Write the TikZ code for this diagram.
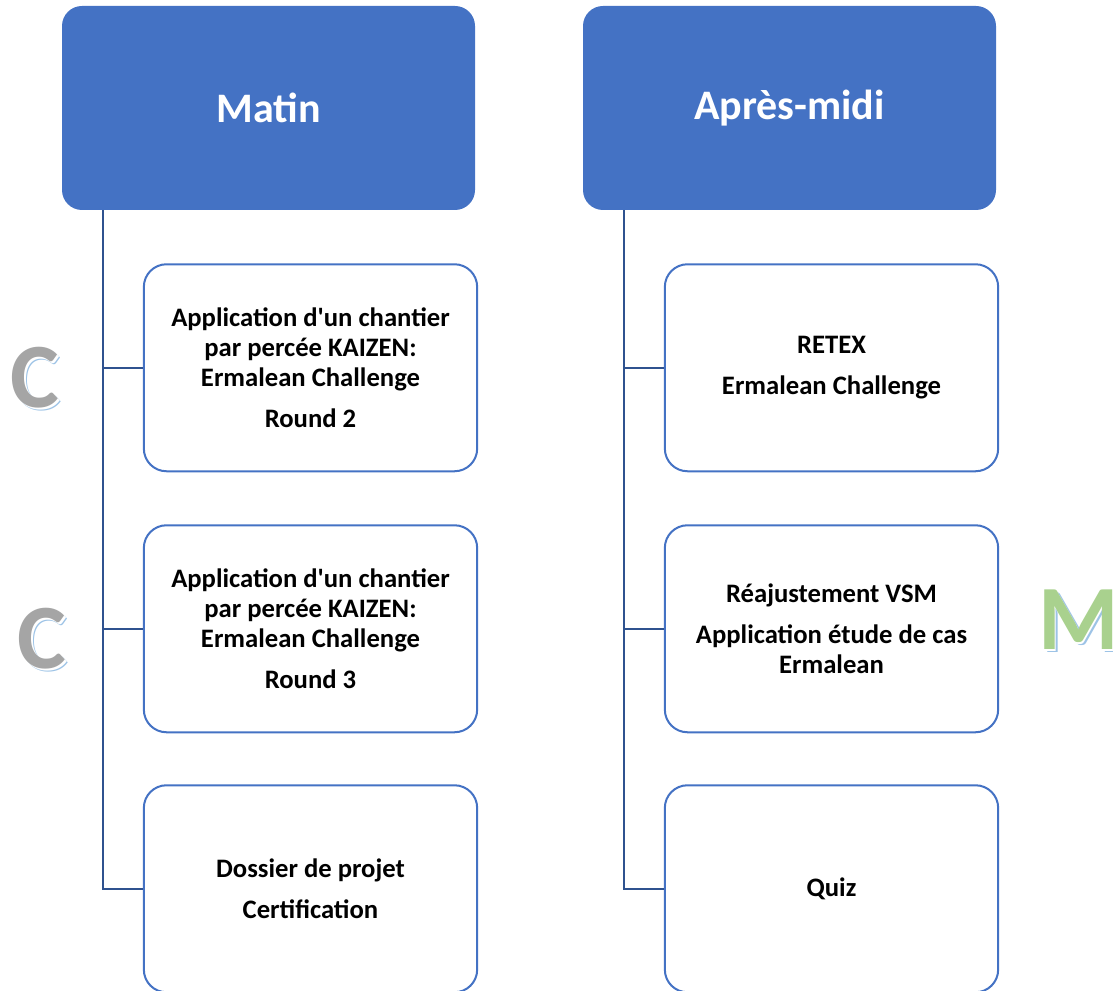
\documentclass[tikz,border=0pt]{standalone}
\usepackage{fontspec}
\setmainfont{Carlito}
\usetikzlibrary{positioning}
\definecolor{hdrblue}{HTML}{4472C4}
\definecolor{trunkblue}{HTML}{2F528F}
\definecolor{letgray}{HTML}{A5A5A5}
\definecolor{letgreen}{HTML}{A9D18E}
\definecolor{shadeblue}{HTML}{9DC3E6}
\tikzset{
  header/.style={fill=hdrblue, rounded corners=15pt, minimum width=309.75pt, minimum height=153pt,
    text=white, font=\fontsize{31.5}{37}\selectfont\bfseries},
  item/.style={draw=hdrblue, line width=1.5pt, fill=white, rounded corners=17pt,
    minimum width=250pt, minimum height=155.25pt, align=center,
    font=\fontsize{20}{22.5}\selectfont\bfseries},
  trunk/.style={draw=trunkblue, line width=1.5pt},
  bigletter/.style={font=\fontsize{69}{69}\selectfont\bfseries, inner sep=0pt},
}
\begin{document}
\begin{tikzpicture}[x=0.75pt, y=-0.75pt]
  \useasboundingbox (0,0) rectangle (1113,991);
  \clip (0,0) rectangle (1113,991);
  % column headers
  \node[header] (matin) at (268.5,108) {Matin};
  \node[header] (apres) at (789.5,108) {Après-midi};
  % morning
  \node[item] (m1) [below=39.75pt of matin.south, xshift=31.5pt]
    {Application d\textquotesingle un chantier\\ par percée KAIZEN:\\ Ermalean Challenge\\[8pt] Round 2};
  \node[item] (m2) [below=39pt of m1]
    {Application d\textquotesingle un chantier\\ par percée KAIZEN:\\ Ermalean Challenge\\[8pt] Round 3};
  \node[item] (m3) [below=38.25pt of m2] {Dossier de projet\\[8pt] Certification};
  % afternoon
  \node[item] (a1) [below=39.75pt of apres.south, xshift=31.5pt] {RETEX\\[8pt] Ermalean Challenge};
  \node[item] (a2) [below=39pt of a1] {Réajustement VSM\\[8pt] Application étude de cas\\ Ermalean};
  \node[item] (a3) [below=38.25pt of a2] {Quiz};
  % connectors
  \coordinate (mtop) at ([xshift=30.75pt]matin.south west);
  \coordinate (atop) at ([xshift=30.75pt]apres.south west);
  \draw[trunk] (mtop) |- (m1.west) (mtop) |- (m2.west) (mtop) |- (m3.west);
  \draw[trunk] (atop) |- (a1.west) (atop) |- (a2.west) (atop) |- (a3.west);
  % side letters
  \node[bigletter, text=shadeblue] (c1s) at (38,381) {C};
  \node[bigletter, text=white] (c1w) at (36.5,379.5) {C};
  \node[bigletter, text=letgray] (c1) at (35,378) {C};
  \node[bigletter, text=shadeblue] (c2s) at (45,642) {C};
  \node[bigletter, text=white] (c2w) at (43.5,640.5) {C};
  \node[bigletter, text=letgray] (c2) at (42,639) {C};
  \node[bigletter, text=shadeblue, anchor=west] (ms) at (1041,623) {M};
  \node[bigletter, text=white, anchor=west] (mw) at (1039.5,621.5) {M};
  \node[bigletter, text=letgreen, anchor=west] (mm) at (1038,620) {M};
\end{tikzpicture}
\end{document}
